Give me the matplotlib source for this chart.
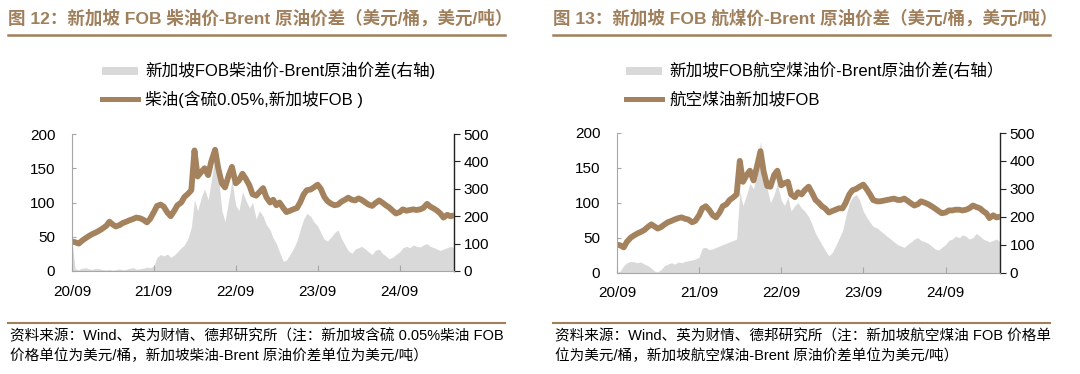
import matplotlib
matplotlib.use("Agg")
import matplotlib.pyplot as plt
import matplotlib.dates as mdates
from matplotlib.lines import Line2D
from matplotlib.patches import Rectangle
import pandas as pd

plt.rcParams['font.family'] = ['Liberation Sans', 'Noto Sans CJK SC', 'DejaVu Sans']

# ---------------- data ----------------
dates = pd.date_range('2020-09-01', '2025-05-01', freq='SMS')

diesel_price = [
    43, 42, 40, 44, 48, 51, 54, 56, 59, 62, 66, 72, 68, 65, 67, 70, 72, 74, 76, 78, 77, 75, 71, 76,
    86, 95, 97, 94, 85, 80, 88, 96, 100, 108, 113, 118, 176, 138, 145, 150, 140, 160, 177, 150, 128, 122, 140, 152,
    128, 132, 142, 135, 125, 112, 110, 115, 121, 108, 100, 104, 96, 100, 92, 86, 88, 90, 92, 100, 112, 118, 119, 122,
    126, 120, 108, 102, 98, 96, 97, 101, 104, 107, 104, 103, 106, 104, 100, 97, 95, 99, 103, 100, 96, 93, 88, 84,
    86, 90, 88, 89, 90, 89, 90, 92, 98, 94, 91, 88, 84, 78, 82, 80, 81]

diesel_spread = [
    110, 8, 5, 10, 12, 8, 6, 10, 8, 5, 4, 6, 3, 5, 8, 4, 6, 10, 12, 6, 8, 10, 14, 12,
    18, 50, 60, 55, 62, 50, 58, 70, 85, 95, 120, 160, 260, 220, 270, 300, 260, 330, 420, 350, 220, 180, 260, 330,
    240, 220, 290, 260, 230, 250, 190, 220, 200, 170, 150, 120, 100, 70, 35, 40, 60, 80, 110, 150, 190, 210, 200, 180,
    165, 140, 115, 110, 125, 140, 150, 120, 95, 75, 65, 80, 85, 90, 80, 70, 60, 75, 80, 65, 55, 45, 50, 60,
    70, 85, 90, 85, 95, 90, 88, 95, 100, 90, 85, 80, 75, 80, 85, 90, 85]

jet_price = [
    40, 39, 36, 44, 50, 53, 56, 58, 61, 65, 69, 66, 63, 65, 69, 72, 74, 76, 78, 79, 77, 76, 72, 74,
    82, 92, 95, 90, 82, 79, 86, 95, 98, 104, 108, 112, 160, 130, 140, 146, 132, 150, 174, 145, 124, 123, 140, 146,
    125, 128, 130, 112, 108, 115, 112, 118, 123, 115, 104, 100, 95, 92, 86, 88, 90, 92, 92, 100, 112, 118, 120, 123,
    126, 120, 112, 104, 102, 102, 103, 104, 105, 106, 104, 104, 106, 103, 99, 96, 98, 102, 100, 98, 95, 92, 88, 85,
    86, 89, 89, 90, 90, 89, 90, 92, 96, 94, 92, 88, 85, 78, 82, 79, 80]

jet_spread = [
    0, 5, 25, 35, 40, 38, 35, 38, 30, 25, 15, 5, 2, 10, 25, 30, 35, 30, 38, 35, 40, 42, 45, 48,
    55, 88, 90, 82, 85, 90, 95, 100, 105, 110, 115, 120, 290, 240, 280, 320, 300, 360, 470, 380, 300, 250, 280, 320,
    260, 240, 270, 220, 240, 250, 230, 220, 200, 175, 140, 120, 100, 80, 60, 70, 95, 120, 150, 200, 250, 270, 280, 260,
    220, 200, 180, 165, 160, 150, 140, 130, 120, 110, 100, 95, 90, 100, 110, 120, 125, 115, 110, 105, 95, 85, 80, 90,
    100, 115, 120, 130, 125, 135, 130, 120, 125, 140, 130, 120, 115, 110, 115, 120, 110]

x_ticks = ['2020-09-01', '2021-09-01', '2022-09-01', '2023-09-01', '2024-09-01']
left_ticks = [0, 50, 100, 150, 200]
right_ticks = [0, 100, 200, 300, 400, 500]

titles = ['图 12：新加坡 FOB 柴油价-Brent 原油价差（美元/桶，美元/吨）',
          '图 13：新加坡 FOB 航煤价-Brent 原油价差（美元/桶，美元/吨）']
legend_area = ['新加坡FOB柴油价-Brent原油价差(右轴)',
               '新加坡FOB航空煤油价-Brent原油价差(右轴）']
legend_line = ['柴油(含硫0.05%,新加坡FOB )', '航空煤油新加坡FOB']
notes = [['资料来源：Wind、英为财情、德邦研究所（注：新加坡含硫 0.05%柴油 FOB',
          '价格单位为美元/桶，新加坡柴油-Brent 原油价差单位为美元/吨）'],
         ['资料来源：Wind、英为财情、德邦研究所（注：新加坡航空煤油 FOB 价格单',
          '位为美元/桶，新加坡航空煤油-Brent 原油价差单位为美元/吨）']]

# ---------------- style ----------------
W, H = 1080, 374
BROWN = '#A3825D'
TITLE_C = '#A0805C'
GRAY = '#D9D9D9'

fig = plt.figure(figsize=(W / 100, H / 100), dpi=100)


def fx(x):
    return x / W


def fy(y):
    return 1 - y / H


panels = [
    dict(x0=72, x1=454, y0=134, y1=271, ox=8, line=diesel_price, area=diesel_spread),
    dict(x0=617, x1=1000, y0=133, y1=272.5, ox=553, line=jet_price, area=jet_spread),
]

for i, p in enumerate(panels):
    ax = fig.add_axes([fx(p['x0']), fy(p['y1']), fx(p['x1'] - p['x0']), (p['y1'] - p['y0']) / H])
    ax2 = ax.twinx()
    ax2.fill_between(dates, 0, p['area'], color=GRAY, linewidth=0)
    ax.plot(dates, p['line'], color=BROWN, linewidth=4.2, solid_capstyle='round', solid_joinstyle='round')
    ax.set_zorder(ax2.get_zorder() + 1)
    ax.patch.set_visible(False)

    ax.set_xlim(pd.Timestamp('2020-09-01'), pd.Timestamp('2025-05-01'))
    ax.set_ylim(0, 200)
    ax2.set_ylim(0, 500)
    ax.set_yticks(left_ticks)
    ax2.set_yticks(right_ticks)
    ax.set_xticks([pd.Timestamp(t) for t in x_ticks])
    ax.xaxis.set_major_formatter(mdates.DateFormatter('%y/%m'))

    for a in (ax, ax2):
        a.spines['top'].set_visible(False)
    ax.spines['right'].set_visible(False)
    ax2.spines['left'].set_visible(False)
    ax2.spines['bottom'].set_visible(False)
    ax.spines['left'].set_color('#A6A6A6')
    ax.spines['bottom'].set_color('#A6A6A6')
    ax.spines['left'].set_linewidth(0.8)
    ax.spines['bottom'].set_linewidth(0.8)
    ax2.spines['right'].set_color('#222222')
    ax2.spines['right'].set_linewidth(1.0)

    ax.tick_params(axis='y', direction='in', length=3, color='#A6A6A6', labelsize=11, pad=12)
    ax.tick_params(axis='x', direction='in', length=4, color='#A6A6A6', labelsize=11, pad=10)
    ax2.tick_params(axis='y', direction='out', length=4, color='#222222', labelsize=11, pad=3)

    # title + rules
    fig.text(fx(p['ox']), fy(18), titles[i], fontsize=12.6, fontweight='bold', color=TITLE_C,
             ha='left', va='center')
    fig.add_artist(Line2D([fx(p['ox']), fx(p['ox'] + 497)], [fy(35), fy(35)], color=TITLE_C, linewidth=1.8))
    fig.add_artist(Line2D([fx(p['ox']), fx(p['ox'] + 497)], [fy(322.5), fy(322.5)], color=TITLE_C, linewidth=1.5))

    # legend
    lx = 102 if i == 0 else 626
    fig.add_artist(Rectangle((fx(lx), fy(74.5)), fx(36), 7.5 / H, color=GRAY, linewidth=0))
    fig.add_artist(Line2D([fx(lx), fx(lx + 36)], [fy(99), fy(99)], color=BROWN, linewidth=3.6))
    fig.text(fx(lx + 43), fy(70.5), legend_area[i], fontsize=12, ha='left', va='center')
    fig.text(fx(lx + 43), fy(99.5), legend_line[i], fontsize=12, ha='left', va='center')

    # notes
    fig.text(fx(p['ox'] + 2), fy(336), notes[i][0], fontsize=10.5, ha='left', va='center')
    fig.text(fx(p['ox'] + 2), fy(356), notes[i][1], fontsize=10.5, ha='left', va='center')

fig.savefig('out.png', dpi=100)
